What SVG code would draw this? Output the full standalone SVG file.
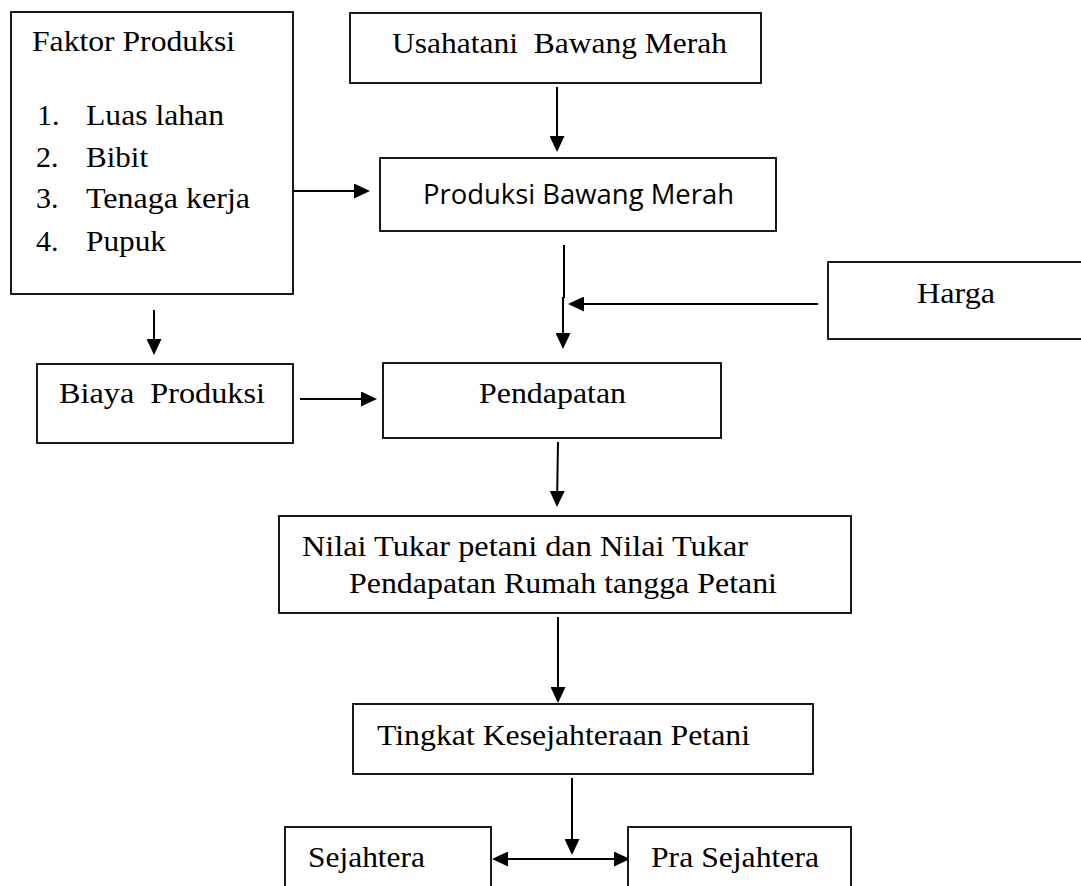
<svg xmlns="http://www.w3.org/2000/svg" width="1081" height="886" viewBox="0 0 1081 886">
  <style>
    .box { fill: #fff; stroke: #000; stroke-width: 1.8; }
    .t { font-family: "Liberation Serif", "Times New Roman", serif; font-size: 30px; fill: #000; }
    .s { font-family: "Open Sans", "Liberation Sans", Arial, sans-serif; font-size: 27px; fill: #000; }
    .c { fill: none; stroke: #000; stroke-width: 2; }
  </style>
  <defs>
    <marker id="ah" markerUnits="userSpaceOnUse" markerWidth="16" markerHeight="15" refX="14" refY="7.5" orient="auto-start-reverse" viewBox="0 0 16 15">
      <path d="M0,0 L16,7.5 L0,15 z" fill="#000"/>
    </marker>
  </defs>
  <rect width="1081" height="886" fill="#fff"/>

  <g id="connectors">
    <line class="c" x1="293" y1="191" x2="368" y2="191" marker-end="url(#ah)"/>
    <line class="c" x1="557" y1="87" x2="557" y2="150" marker-end="url(#ah)"/>
    <line class="c" x1="564" y1="245" x2="564" y2="298"/>
    <line class="c" x1="563" y1="297" x2="563" y2="347" marker-end="url(#ah)"/>
    <line class="c" x1="818" y1="304" x2="570" y2="304" marker-end="url(#ah)"/>
    <line class="c" x1="154" y1="310" x2="154" y2="353" marker-end="url(#ah)"/>
    <line class="c" x1="300" y1="399" x2="375" y2="399" marker-end="url(#ah)"/>
    <line class="c" x1="558" y1="442" x2="557" y2="505" marker-end="url(#ah)"/>
    <line class="c" x1="558" y1="617" x2="558" y2="701" marker-end="url(#ah)"/>
    <line class="c" x1="572" y1="778" x2="572" y2="853" marker-end="url(#ah)"/>
    <line class="c" x1="494" y1="859" x2="628" y2="859" marker-start="url(#ah)" marker-end="url(#ah)"/>
  </g>

  <g id="faktor-produksi">
    <rect class="box" x="11" y="12" width="282" height="282"/>
    <text class="t" x="32" y="51" textLength="203" lengthAdjust="spacingAndGlyphs">Faktor Produksi</text>
    <text class="t" x="37" y="125">1.</text>
    <text class="t" x="86" y="125" textLength="138" lengthAdjust="spacingAndGlyphs">Luas lahan</text>
    <text class="t" x="36" y="167">2.</text>
    <text class="t" x="86" y="167" textLength="62" lengthAdjust="spacingAndGlyphs">Bibit</text>
    <text class="t" x="36" y="208">3.</text>
    <text class="t" x="86" y="208" textLength="164" lengthAdjust="spacingAndGlyphs">Tenaga kerja</text>
    <text class="t" x="36" y="251">4.</text>
    <text class="t" x="86" y="251" textLength="80" lengthAdjust="spacingAndGlyphs">Pupuk</text>
  </g>

  <g id="usahatani">
    <rect class="box" x="350" y="13" width="411" height="70"/>
    <text class="t" x="392" y="53" xml:space="preserve" textLength="335" lengthAdjust="spacingAndGlyphs">Usahatani  Bawang Merah</text>
  </g>

  <g id="produksi">
    <rect class="box" x="380" y="158" width="396" height="73"/>
    <text class="s" x="423" y="204" textLength="311" lengthAdjust="spacingAndGlyphs">Produksi Bawang Merah</text>
  </g>

  <g id="harga">
    <rect class="box" x="828" y="262" width="270" height="77"/>
    <text class="t" x="917" y="303" textLength="78" lengthAdjust="spacingAndGlyphs">Harga</text>
  </g>

  <g id="biaya-produksi">
    <rect class="box" x="37" y="364" width="256" height="79"/>
    <text class="t" x="59" y="403" xml:space="preserve" textLength="206" lengthAdjust="spacingAndGlyphs">Biaya  Produksi</text>
  </g>

  <g id="pendapatan">
    <rect class="box" x="383" y="363" width="338" height="75"/>
    <text class="t" x="479" y="403" textLength="147" lengthAdjust="spacingAndGlyphs">Pendapatan</text>
  </g>

  <g id="nilai-tukar">
    <rect class="box" x="279" y="516" width="572" height="97"/>
    <text class="t" x="302" y="556" textLength="446" lengthAdjust="spacingAndGlyphs">Nilai Tukar petani dan Nilai Tukar</text>
    <text class="t" x="349" y="593" textLength="428" lengthAdjust="spacingAndGlyphs">Pendapatan Rumah tangga Petani</text>
  </g>

  <g id="tingkat-kesejahteraan">
    <rect class="box" x="353" y="704" width="460" height="70"/>
    <text class="t" x="377" y="745" textLength="373" lengthAdjust="spacingAndGlyphs">Tingkat Kesejahteraan Petani</text>
  </g>

  <g id="sejahtera">
    <rect class="box" x="285" y="827" width="206" height="80"/>
    <text class="t" x="308" y="867" textLength="117" lengthAdjust="spacingAndGlyphs">Sejahtera</text>
  </g>

  <g id="pra-sejahtera">
    <rect class="box" x="628" y="827" width="223" height="80"/>
    <text class="t" x="651" y="867" textLength="168" lengthAdjust="spacingAndGlyphs">Pra Sejahtera</text>
  </g>
</svg>
